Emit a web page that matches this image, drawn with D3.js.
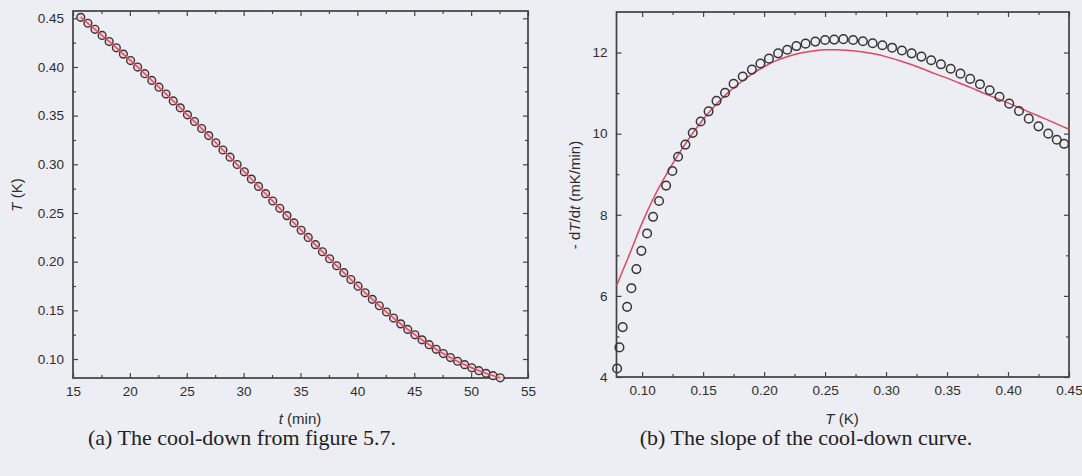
<!DOCTYPE html>
<html><head><meta charset="utf-8">
<script src="https://cdn.jsdelivr.net/npm/d3@7"></script>
<style>
body{margin:0;background:#ededf4;}
svg{display:block;}
.tick text{font-family:"Liberation Sans",Arial,sans-serif;font-size:13.5px;fill:#2e2e2e;}
.tick line{stroke:#444;stroke-width:1.2;}
</style></head><body>
<svg id="c" width="1082" height="476"></svg>
<script>
// ---- data: (a) cool-down curve ----
const coolTime=[15.68,16.31,16.93,17.56,18.18,18.81,19.43,20.06,20.68,21.31,21.93,22.56,23.18,23.81,24.43,25.06,25.68,26.31,26.93,27.56,28.18,28.81,29.43,30.06,30.68,31.31,31.93,32.56,33.18,33.81,34.43,35.06,35.68,36.31,36.93,37.56,38.18,38.81,39.43,40.06,40.68,41.31,41.93,42.56,43.18,43.81,44.43,45.06,45.68,46.31,46.93,47.56,48.18,48.81,49.43,50.06,50.68,51.31,51.93,52.56];
const coolTemp=[0.4510,0.4449,0.4387,0.4324,0.4261,0.4197,0.4132,0.4066,0.3999,0.3931,0.3862,0.3792,0.3722,0.3651,0.3580,0.3508,0.3440,0.3368,0.3295,0.3221,0.3147,0.3073,0.2998,0.2923,0.2848,0.2773,0.2698,0.2623,0.2548,0.2473,0.2398,0.2323,0.2249,0.2175,0.2102,0.2030,0.1958,0.1887,0.1817,0.1748,0.1680,0.1613,0.1547,0.1483,0.1421,0.1361,0.1304,0.1249,0.1197,0.1147,0.1100,0.1056,0.1015,0.0977,0.0942,0.0910,0.0880,0.0853,0.0829,0.0807];
// ---- data: (b) slope of the cool-down curve ----
const slopeTemp=[0.0795,0.0814,0.0841,0.0877,0.0912,0.0953,0.0994,0.1041,0.1090,0.1139,0.1197,0.1248,0.1295,0.1355,0.1415,0.1480,0.1545,0.1610,0.1680,0.1750,0.1825,0.1900,0.1970,0.2040,0.2115,0.2190,0.2265,0.2340,0.2420,0.2500,0.2575,0.2650,0.2730,0.2810,0.2890,0.2970,0.3050,0.3130,0.3210,0.3290,0.3370,0.3450,0.3530,0.3610,0.3690,0.3770,0.3850,0.3930,0.4010,0.4090,0.4170,0.4250,0.4330,0.4400,0.4460];
const slopeRate=[4.21,4.73,5.23,5.73,6.19,6.66,7.11,7.54,7.95,8.34,8.72,9.08,9.43,9.73,10.02,10.30,10.55,10.81,11.01,11.23,11.41,11.58,11.73,11.85,11.98,12.07,12.16,12.22,12.27,12.31,12.32,12.33,12.31,12.28,12.23,12.18,12.12,12.05,11.98,11.90,11.81,11.71,11.60,11.48,11.35,11.22,11.07,10.91,10.74,10.56,10.37,10.18,10.00,9.85,9.75];
const fitTemp=[0.079,0.09,0.10,0.11,0.12,0.13,0.14,0.15,0.16,0.17,0.18,0.19,0.20,0.21,0.22,0.23,0.24,0.25,0.26,0.27,0.28,0.29,0.30,0.31,0.32,0.33,0.34,0.35,0.36,0.37,0.38,0.39,0.40,0.41,0.42,0.43,0.44,0.45];
const fitRate=[6.25,7.05,7.80,8.45,9.00,9.50,9.95,10.35,10.70,11.00,11.25,11.47,11.65,11.80,11.91,11.99,12.04,12.07,12.07,12.05,12.02,11.97,11.90,11.81,11.71,11.60,11.48,11.37,11.25,11.13,11.00,10.88,10.76,10.63,10.50,10.37,10.24,10.11];
// ---- ticks ----
const aXTicks=[15,20,25,30,35,40,45,50,55];
const aXMinor=[17.5,22.5,27.5,32.5,37.5,42.5,47.5,52.5];
const aYTicks=[0.10,0.15,0.20,0.25,0.30,0.35,0.40,0.45];
const aYMinor=[0.125,0.175,0.225,0.275,0.325,0.375,0.425];
const bXTicks=[0.10,0.15,0.20,0.25,0.30,0.35,0.40,0.45];
const bXMinor=[0.125,0.175,0.225,0.275,0.325,0.375,0.425];
const bYTicks=[4,6,8,10,12];
const bYMinor=[5,7,9,11];

const svg=d3.select("#c");
const RED="#e0485f", INK="#363636";

function panel(o){
  const g=svg.append("g");
  const x=d3.scaleLinear().domain(o.xd).range([o.x0,o.x1]);
  const y=d3.scaleLinear().domain(o.yd).range([o.y1,o.y0]);
  const mk=(ax,tr,vals,size,fmt,pad)=>{
    const a=ax.tickValues(vals).tickSizeInner(size).tickSizeOuter(0).tickPadding(pad);
    a.tickFormat(fmt||"");
    const s=g.append("g").attr("transform",tr).call(a);
    s.select(".domain").remove();
  };
  mk(d3.axisBottom(x),`translate(0,${o.y1})`,o.xt,-5,o.xf,8);
  mk(d3.axisBottom(x),`translate(0,${o.y1})`,o.xm,-3,null,8);
  mk(d3.axisTop(x),`translate(0,${o.y0})`,o.xt,-5,null,3);
  mk(d3.axisTop(x),`translate(0,${o.y0})`,o.xm,-3,null,3);
  mk(d3.axisLeft(y),`translate(${o.x0},0)`,o.yt,-5,o.yf,9);
  mk(d3.axisLeft(y),`translate(${o.x0},0)`,o.ym,-3,null,9);
  mk(d3.axisRight(y),`translate(${o.x1},0)`,o.yt,-5,null,3);
  mk(d3.axisRight(y),`translate(${o.x1},0)`,o.ym,-3,null,3);
  g.append("rect").attr("x",o.x0).attr("y",o.y0).attr("width",o.x1-o.x0).attr("height",o.y1-o.y0)
    .attr("fill","none").attr("stroke","#404040").attr("stroke-width",1.7);
  return {g,x,y};
}

// (a)
const A=panel({x0:73,x1:528,y0:11,y1:378,xd:[15,55],yd:[0.0805,0.4575],
  xt:aXTicks,xm:aXMinor,yt:aYTicks,ym:aYMinor,xf:d3.format("d"),yf:d3.format(".2f")});
const aPts=coolTime.map((t,i)=>[t,coolTemp[i]]);
A.g.selectAll("circle.a").data(aPts).join("circle")
  .attr("cx",d=>A.x(d[0])).attr("cy",d=>A.y(d[1])).attr("r",3.9)
  .attr("fill","#f0d0d7").attr("stroke",INK).attr("stroke-width",1.4);
A.g.append("path").datum(aPts).attr("fill","none").attr("stroke",RED).attr("stroke-width",1.4)
  .attr("d",d3.line().x(d=>A.x(d[0])).y(d=>A.y(d[1])).curve(d3.curveMonotoneX));

// (b)
const B=panel({x0:616.5,x1:1069,y0:12,y1:377,xd:[0.079,0.45],yd:[4,13],
  xt:bXTicks,xm:bXMinor,yt:bYTicks,ym:bYMinor,xf:d3.format(".2f"),yf:d3.format("d")});
const bPts=slopeTemp.map((t,i)=>[t,slopeRate[i]]);
const fPts=fitTemp.map((t,i)=>[t,fitRate[i]]);
B.g.append("path").datum(fPts).attr("fill","none").attr("stroke",RED).attr("stroke-width",1.5)
  .attr("d",d3.line().x(d=>B.x(d[0])).y(d=>B.y(d[1])).curve(d3.curveMonotoneX));
B.g.selectAll("circle.b").data(bPts).join("circle")
  .attr("cx",d=>B.x(d[0])).attr("cy",d=>B.y(d[1])).attr("r",4.3)
  .attr("fill","none").attr("stroke",INK).attr("stroke-width",1.5);

// axis titles
const lab=(x,y,rot,parts)=>{
  const t=svg.append("text").attr("transform",`translate(${x},${y}) rotate(${rot})`)
    .attr("text-anchor","middle").attr("font-family","Liberation Sans,Arial,sans-serif")
    .attr("font-size",15).attr("fill","#2e2e2e");
  parts.forEach(p=>t.append("tspan").attr("font-style",p[1]?"italic":"normal").text(p[0]));
};
lab(300,424,0,[["t",1],[" (min)",0]]);
lab(22,195,-90,[["T",1],[" (K)",0]]);
lab(842,424,0,[["T",1],[" (K)",0]]);
lab(580,195,-90,[["- d",0],["T",1],["/d",0],["t",1],["  (mK/min)",0]]);

// captions
const cap=(x,s)=>svg.append("text").attr("x",x).attr("y",445).attr("text-anchor","middle")
  .attr("font-family","Liberation Serif,Times New Roman,serif").attr("font-size",22).attr("fill","#222").text(s);
cap(242,"(a) The cool-down from figure 5.7.");
cap(806,"(b) The slope of the cool-down curve.");
</script>
</body></html>
